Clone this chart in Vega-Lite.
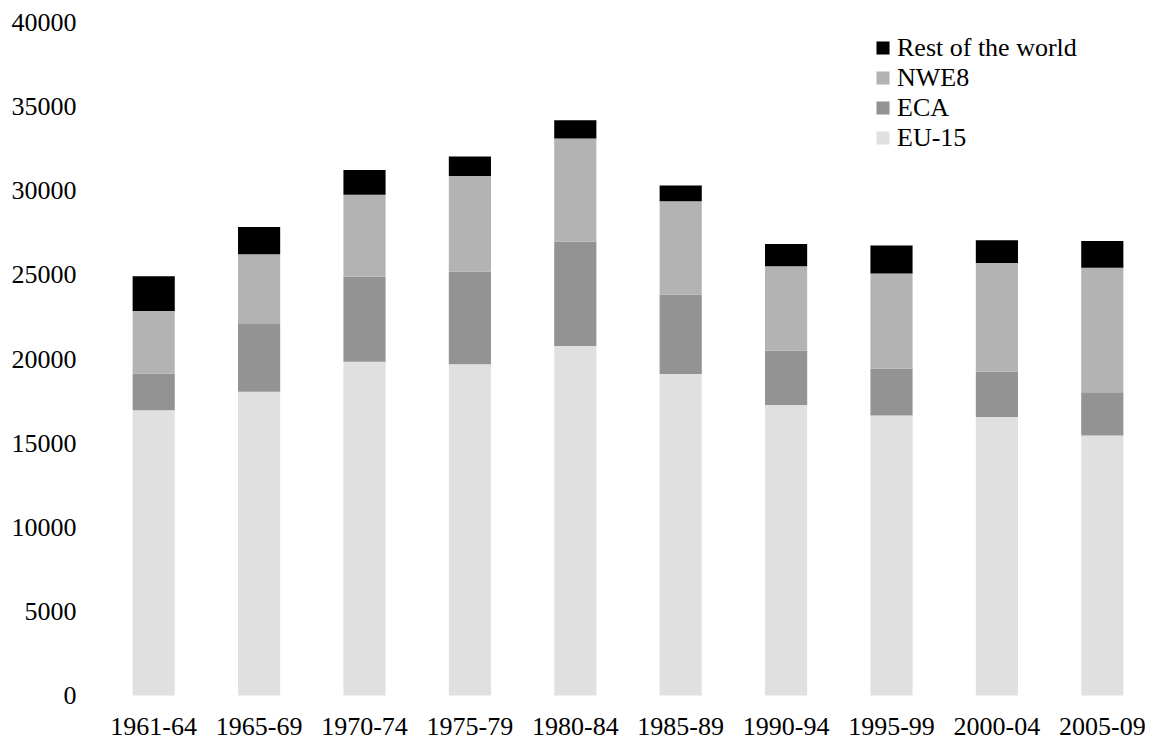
{
  "$schema": "https://vega.github.io/schema/vega-lite/v6.json",
  "autosize": "none",
  "width": 1054,
  "height": 673,
  "padding": {"left": 101, "top": 22.5, "right": 1, "bottom": 59.5},
  "background": "white",
  "config": {
    "view": {"stroke": null},
    "font": "Times New Roman, Liberation Serif, DejaVu Serif, serif"
  },
  "data": {
    "values": [
      {"period": "1961-64", "region": "EU-15", "value": 16950},
      {"period": "1961-64", "region": "ECA", "value": 2180},
      {"period": "1961-64", "region": "NWE8", "value": 3730},
      {"period": "1961-64", "region": "Rest of the world", "value": 2060},
      {"period": "1965-69", "region": "EU-15", "value": 18060},
      {"period": "1965-69", "region": "ECA", "value": 4070},
      {"period": "1965-69", "region": "NWE8", "value": 4100},
      {"period": "1965-69", "region": "Rest of the world", "value": 1620},
      {"period": "1970-74", "region": "EU-15", "value": 19830},
      {"period": "1970-74", "region": "ECA", "value": 5070},
      {"period": "1970-74", "region": "NWE8", "value": 4860},
      {"period": "1970-74", "region": "Rest of the world", "value": 1470},
      {"period": "1975-79", "region": "EU-15", "value": 19690},
      {"period": "1975-79", "region": "ECA", "value": 5510},
      {"period": "1975-79", "region": "NWE8", "value": 5670},
      {"period": "1975-79", "region": "Rest of the world", "value": 1170},
      {"period": "1980-84", "region": "EU-15", "value": 20780},
      {"period": "1980-84", "region": "ECA", "value": 6200},
      {"period": "1980-84", "region": "NWE8", "value": 6120},
      {"period": "1980-84", "region": "Rest of the world", "value": 1090},
      {"period": "1985-89", "region": "EU-15", "value": 19110},
      {"period": "1985-89", "region": "ECA", "value": 4720},
      {"period": "1985-89", "region": "NWE8", "value": 5550},
      {"period": "1985-89", "region": "Rest of the world", "value": 930},
      {"period": "1990-94", "region": "EU-15", "value": 17270},
      {"period": "1990-94", "region": "ECA", "value": 3230},
      {"period": "1990-94", "region": "NWE8", "value": 5020},
      {"period": "1990-94", "region": "Rest of the world", "value": 1310},
      {"period": "1995-99", "region": "EU-15", "value": 16640},
      {"period": "1995-99", "region": "ECA", "value": 2790},
      {"period": "1995-99", "region": "NWE8", "value": 5650},
      {"period": "1995-99", "region": "Rest of the world", "value": 1660},
      {"period": "2000-04", "region": "EU-15", "value": 16560},
      {"period": "2000-04", "region": "ECA", "value": 2690},
      {"period": "2000-04", "region": "NWE8", "value": 6460},
      {"period": "2000-04", "region": "Rest of the world", "value": 1350},
      {"period": "2005-09", "region": "EU-15", "value": 15450},
      {"period": "2005-09", "region": "ECA", "value": 2580},
      {"period": "2005-09", "region": "NWE8", "value": 7390},
      {"period": "2005-09", "region": "Rest of the world", "value": 1590}
    ]
  },
  "transform": [
    {"calculate": "indexof(['EU-15','ECA','NWE8','Rest of the world'], datum.region)", "as": "stackOrder"}
  ],
  "mark": {"type": "bar"},
  "encoding": {
    "x": {
      "field": "period",
      "type": "nominal",
      "sort": null,
      "scale": {"paddingInner": 0.6, "paddingOuter": 0.3},
      "axis": {
        "title": null,
        "labelAngle": 0,
        "domain": false,
        "ticks": false,
        "labelFont": "Times New Roman, Liberation Serif, DejaVu Serif, serif",
        "labelFontSize": 26,
        "labelColor": "black",
        "labelPadding": 18,
        "labelLimit": 300
      }
    },
    "y": {
      "field": "value",
      "type": "quantitative",
      "aggregate": "sum",
      "stack": "zero",
      "scale": {"domain": [0, 40000], "nice": false},
      "axis": {
        "title": null,
        "values": [0, 5000, 10000, 15000, 20000, 25000, 30000, 35000, 40000],
        "format": "d",
        "grid": false,
        "domain": false,
        "ticks": false,
        "labelFont": "Times New Roman, Liberation Serif, DejaVu Serif, serif",
        "labelFontSize": 26,
        "labelColor": "black",
        "labelPadding": 25
      }
    },
    "color": {
      "field": "region",
      "type": "nominal",
      "scale": {
        "domain": ["Rest of the world", "NWE8", "ECA", "EU-15"],
        "range": ["#000000", "#b3b3b3", "#939393", "#e0e0e0"]
      },
      "legend": {
        "title": null,
        "orient": "none",
        "legendX": 769,
        "legendY": 12.5,
        "padding": 0,
        "symbolType": "square",
        "symbolSize": 170,
        "symbolStrokeWidth": 0,
        "labelFont": "Times New Roman, Liberation Serif, DejaVu Serif, serif",
        "labelFontSize": 26,
        "labelColor": "black",
        "labelOffset": 1,
        "labelLimit": 400,
        "rowPadding": 4
      }
    },
    "order": {"field": "stackOrder", "type": "quantitative"}
  }
}
